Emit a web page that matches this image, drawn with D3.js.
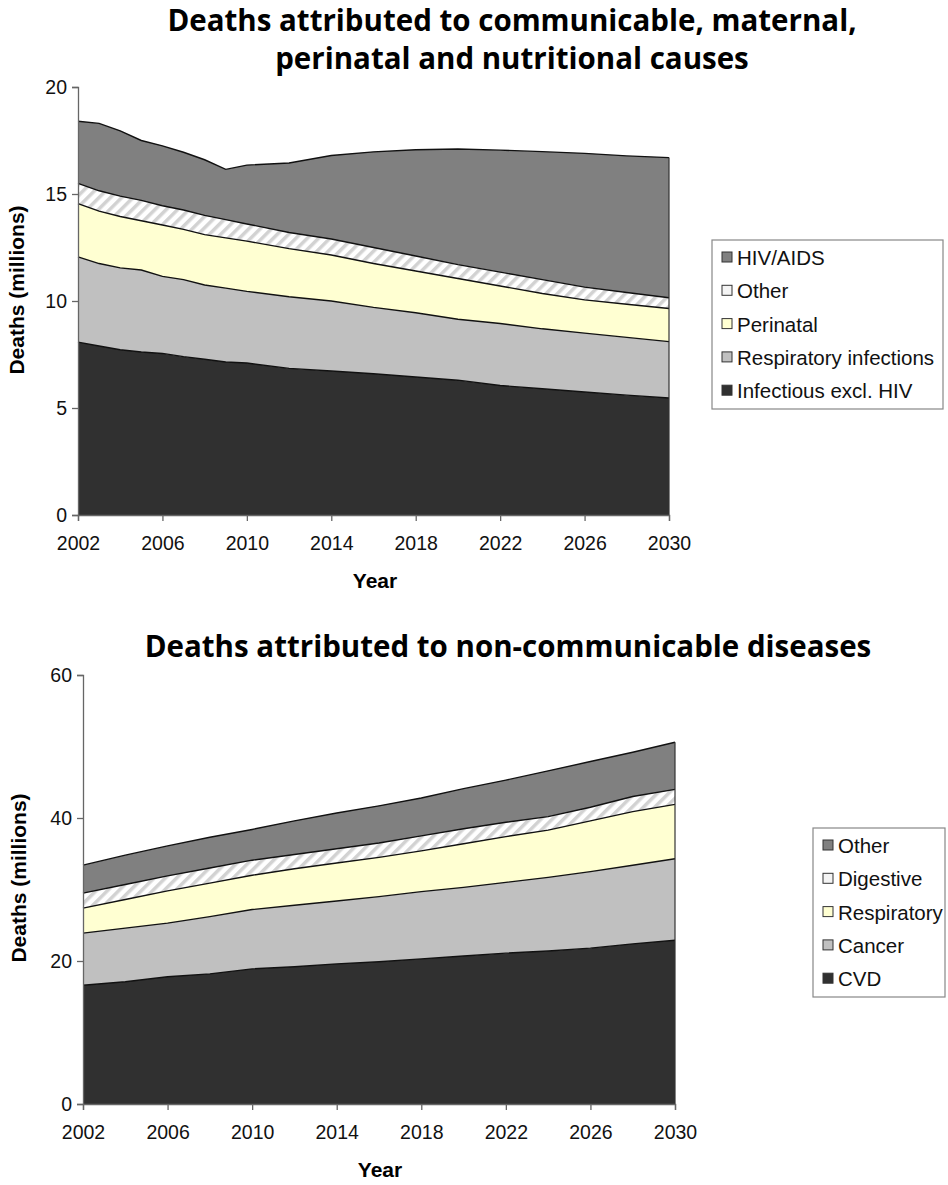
<!DOCTYPE html>
<html>
<head>
<meta charset="utf-8">
<script src="https://cdn.jsdelivr.net/npm/d3@7"></script>
<style>
  body { margin: 0; background: #fff; }
  svg { display: block; }
</style>
</head>
<body>
<svg id="chart" width="948" height="1185"></svg>
<script>
// 상단 차트: 감염성/모성/주산기/영양 관련 사망 (백만명)
const yearsA = [2002,2003,2004,2005,2006,2007,2008,2009,2010,2012,2014,2016,2018,2020,2022,2024,2026,2028,2030];
const infectiousA = [8.08,7.9,7.72,7.62,7.55,7.4,7.28,7.15,7.1,6.85,6.73,6.6,6.45,6.3,6.05,5.9,5.75,5.6,5.47];
const respInfA    = [3.98,3.85,3.83,3.83,3.6,3.6,3.47,3.45,3.35,3.35,3.27,3.1,3.0,2.85,2.9,2.8,2.75,2.7,2.63];
const perinatalA  = [2.49,2.45,2.4,2.3,2.4,2.35,2.35,2.35,2.35,2.25,2.15,2.05,1.95,1.9,1.75,1.65,1.55,1.55,1.55];
const otherA      = [0.95,0.95,0.95,0.95,0.9,0.9,0.9,0.85,0.8,0.75,0.75,0.75,0.7,0.65,0.65,0.65,0.6,0.55,0.5];
const hivA        = [2.9,3.15,3.05,2.8,2.8,2.7,2.6,2.35,2.75,3.25,3.9,4.47,4.97,5.4,5.7,5.98,6.25,6.38,6.55];
const legendA = ["HIV/AIDS", "Other", "Perinatal", "Respiratory infections", "Infectious excl. HIV"];

// 하단 차트: 비감염성 질환 사망 (백만명)
const yearsB = [2002,2004,2006,2008,2010,2012,2014,2016,2018,2020,2022,2024,2026,2028,2030];
const cvdB       = [16.6,17.1,17.8,18.2,18.9,19.2,19.6,19.9,20.3,20.7,21.1,21.4,21.8,22.4,22.9];
const cancerB    = [7.3,7.5,7.5,8.0,8.3,8.6,8.8,9.1,9.4,9.6,9.9,10.3,10.7,11.0,11.4];
const respB      = [3.5,4.0,4.5,4.7,4.8,5.1,5.3,5.5,5.7,6.1,6.4,6.6,7.1,7.5,7.6];
const digestiveB = [2.1,2.1,2.1,2.1,2.1,2.0,2.0,2.0,2.1,2.1,2.0,1.9,1.9,2.1,2.1];
const otherB     = [3.9,4.1,4.2,4.3,4.3,4.7,5.0,5.2,5.3,5.6,5.9,6.4,6.4,6.2,6.6];
const legendB = ["Other", "Digestive", "Respiratory", "Cancer", "CVD"];

const xTicks = [2002,2006,2010,2014,2018,2022,2026,2030];

// 레이어 색 (아래 -> 위)
const fills = ["#303030", "#c0c0c0", "#ffffd2", "url(#hatch)", "#808080"];

const svg = d3.select("#chart");

const defs = svg.append("defs");
const pat = defs.append("pattern")
  .attr("id", "hatch")
  .attr("patternUnits", "userSpaceOnUse")
  .attr("width", 8).attr("height", 8)
  .attr("patternTransform", "rotate(45)");
pat.append("rect").attr("width", 8).attr("height", 8).attr("fill", "#fff");
pat.append("rect").attr("width", 3.5).attr("height", 8).attr("fill", "#d2d2d2");

// 제목
function title(lines, cx, y0, size) {
  lines.forEach(function (t, i) {
    svg.append("text")
      .attr("x", cx).attr("y", y0 + i * 38)
      .attr("text-anchor", "middle")
      .style("font-family", "'Open Sans', sans-serif")
      .style("font-weight", "bold")
      .style("font-size", size + "px")
      .text(t);
  });
}

function drawPanel(o) {
  const keys = o.names.map(function (d, i) { return "k" + i; });
  const rows = o.years.map(function (yr, i) {
    const r = { year: yr };
    o.series.forEach(function (s, j) { r["k" + j] = s[i]; });
    return r;
  });
  const stacked = d3.stack().keys(keys)(rows);

  const x = d3.scaleLinear().domain([2002, 2030]).range(o.xr);
  const y = d3.scaleLinear().domain([0, o.ymax]).range(o.yr);

  const g = svg.append("g");

  const area = d3.area()
    .x(function (d) { return x(d.data.year); })
    .y0(function (d) { return y(d[0]); })
    .y1(function (d) { return y(d[1]); });
  const topLine = d3.line()
    .x(function (d) { return x(d.data.year); })
    .y(function (d) { return y(d[1]); });

  g.selectAll(".layer").data(stacked).enter().append("path")
    .attr("class", "layer")
    .attr("d", area)
    .attr("fill", function (d, i) { return fills[i]; });

  g.selectAll(".edge").data(stacked).enter().append("path")
    .attr("class", "edge")
    .attr("d", topLine)
    .attr("fill", "none")
    .attr("stroke", "#111")
    .attr("stroke-width", 1.4);

  // 오른쪽 끝 세로선
  const last = stacked[stacked.length - 1];
  const lastPt = last[last.length - 1];
  g.append("line")
    .attr("x1", x(2030)).attr("x2", x(2030))
    .attr("y1", y(0)).attr("y2", y(lastPt[1]))
    .attr("stroke", "#333").attr("stroke-width", 1.2);

  // 축
  const yAxis = d3.axisLeft(y).tickValues(d3.range(0, o.ymax + 0.1, o.ystep)).tickSize(6).tickPadding(5);
  const xAxis = d3.axisBottom(x).tickValues(xTicks).tickFormat(d3.format("d")).tickSize(6).tickPadding(15);

  const ya = g.append("g").attr("transform", "translate(" + o.xr[0] + ",0)").call(yAxis);
  const xa = g.append("g").attr("transform", "translate(0," + o.yr[0] + ")").call(xAxis);
  [ya, xa].forEach(function (a) {
    a.select(".domain").attr("stroke", "#666").attr("stroke-width", 1.3);
    a.selectAll(".tick line").attr("stroke", "#666").attr("stroke-width", 1.3);
    a.selectAll("text")
      .attr("fill", "#111")
      .style("font-family", "'Liberation Sans', Arial, sans-serif")
      .style("font-size", "19.5px");
  });

  // 축 제목
  g.append("text")
    .attr("transform", "translate(" + o.ylabX + "," + o.ylabY + ") rotate(-90)")
    .attr("text-anchor", "middle")
    .style("font-family", "'Liberation Sans', Arial, sans-serif")
    .style("font-weight", "bold")
    .style("font-size", "21px")
    .text("Deaths (millions)");
  g.append("text")
    .attr("x", o.xlabX).attr("y", o.xlabY)
    .attr("text-anchor", "middle")
    .style("font-family", "'Liberation Sans', Arial, sans-serif")
    .style("font-weight", "bold")
    .style("font-size", "21px")
    .text("Year");

  // 범례 (위 -> 아래)
  const lg = g.append("g").attr("transform", "translate(" + o.lx + "," + o.ly + ")");
  lg.append("rect")
    .attr("width", o.lw).attr("height", o.lh)
    .attr("fill", "#fff").attr("stroke", "#888").attr("stroke-width", 1.2);
  o.legend.forEach(function (name, i) {
    const idx = o.legend.length - 1 - i;
    const row = lg.append("g").attr("transform", "translate(10," + (18 + i * 33.3) + ")");
    row.append("rect")
      .attr("x", 0).attr("y", -6).attr("width", 10).attr("height", 10)
      .attr("fill", idx === 3 ? "#f4f4f4" : fills[idx])
      .attr("stroke", "#333").attr("stroke-width", 1);
    row.append("text")
      .attr("x", 15).attr("y", 7)
      .style("font-family", "'Liberation Sans', Arial, sans-serif")
      .style("font-size", "20.5px")
      .attr("fill", "#111")
      .text(name);
  });
}

title(["Deaths attributed to communicable, maternal,", "perinatal and nutritional causes"], 512, 31, 29.5);
title(["Deaths attributed to non-communicable diseases"], 508, 657, 29.5);

drawPanel({
  years: yearsA,
  series: [infectiousA, respInfA, perinatalA, otherA, hivA],
  names: ["Infectious excl. HIV", "Respiratory infections", "Perinatal", "Other", "HIV/AIDS"],
  legend: legendA,
  xr: [78, 669], yr: [515, 87], ymax: 20, ystep: 5,
  ylabX: 24, ylabY: 290, xlabX: 375, xlabY: 588,
  lx: 712, ly: 240, lw: 231, lh: 169
});

drawPanel({
  years: yearsB,
  series: [cvdB, cancerB, respB, digestiveB, otherB],
  names: ["CVD", "Cancer", "Respiratory", "Digestive", "Other"],
  legend: legendB,
  xr: [83, 675], yr: [1104, 675], ymax: 60, ystep: 20,
  ylabX: 26, ylabY: 878, xlabX: 380, xlabY: 1177,
  lx: 813, ly: 828, lw: 132, lh: 169
});
</script>
</body>
</html>
